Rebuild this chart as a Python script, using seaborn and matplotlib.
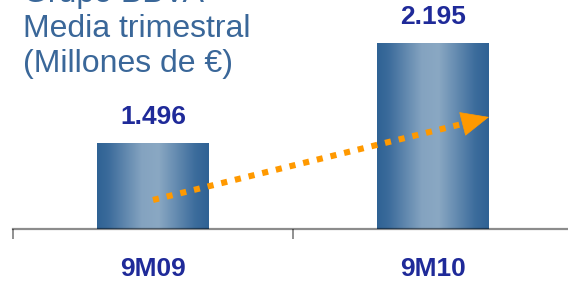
import matplotlib
matplotlib.use("Agg")
import matplotlib.pyplot as plt
import seaborn as sns
import numpy as np
import pandas as pd
from matplotlib.colors import LinearSegmentedColormap

# Data
periods = ["9M09", "9M10"]
values = [1.496, 2.195]
value_labels = ["1.496", "2.195"]
title_lines = ["Grupo BBVA", "Media trimestral", "(Millones de €)"]

df = pd.DataFrame({"period": periods, "value": values})

sns.set_style("white")
plt.rcParams["font.family"] = ["Liberation Sans", "DejaVu Sans"]

fig = plt.figure(figsize=(5.68, 2.81), dpi=100)
ax = fig.add_axes([13 / 568, 52 / 281, 560 / 568, 229 / 281])

sns.barplot(data=df, x="period", y="value", width=0.40, ax=ax, color="#5a82a8")
ylo, yhi = 0.895, 2.496

# gradient fill for the bars
bar_cmap = LinearSegmentedColormap.from_list(
    "bar", [(0, "#2f6294"), (0.1, "#3b6b9b"), (0.4, "#84a3c0"),
            (0.55, "#8aa8c3"), (0.88, "#3c6c9c"), (1, "#2f6294")])
grad = np.linspace(0, 1, 256).reshape(1, -1)
for p in ax.patches:
    x0, y0 = p.get_x(), p.get_y()
    w, h = p.get_width(), p.get_height()
    p.set_facecolor("none")
    p.set_edgecolor("none")
    ax.imshow(grad, cmap=bar_cmap, aspect="auto",
              extent=(x0, x0 + w, ylo, y0 + h), zorder=2)
ax.set_xlim(-0.5, 1.5)
ax.set_ylim(ylo, yhi)

# value labels
for i, (v, lab) in enumerate(zip(values, value_labels)):
    ax.annotate(lab, (i, v), xytext=(0, 10), textcoords="offset points",
                ha="center", va="bottom", fontsize=19, fontweight="bold",
                color="#1f2a99", zorder=5)

# orange dotted trend arrow
ax.plot([0.0, 1.118], [1.098, 1.636], color="#ff9900", lw=4.4,
        linestyle=(0, (1.0, 1.3)), solid_capstyle="butt", zorder=6)
ax.annotate("", xy=(1.2, 1.678), xytext=(1.11, 1.632),
            arrowprops=dict(arrowstyle="-|>,head_length=0.95,head_width=0.42",
                            mutation_scale=20, color="#ff9900", lw=0.5,
                            shrinkA=0, shrinkB=0),
            zorder=6)

# axes styling
for s in ["left", "right", "top"]:
    ax.spines[s].set_visible(False)
ax.spines["bottom"].set_color((0, 0, 0, 0.45))
ax.spines["bottom"].set_linewidth(1.6)
ax.spines["bottom"].set_zorder(4)
ax.set_yticks([])
ax.set_xticks([0, 1])
ax.set_xticklabels(periods, fontsize=19, fontweight="bold", color="#1f2a99")
ax.tick_params(axis="x", which="major", length=0, pad=20)
ax.set_xticks([-0.5, 0.5, 1.5], minor=True)
ax.tick_params(axis="x", which="minor", bottom=True, length=7.5, width=1.3,
               color="#888888", direction="out")
ax.set_xlabel("")
ax.set_ylabel("")

# title block (top line is cut off by the frame, as in the source)
for k, line in enumerate(title_lines):
    fig.text(23 / 568, 1 - (2 + 35 * k) / 281, line, fontsize=23,
             color="#3a6799", ha="left", va="baseline")

fig.savefig("out.png", dpi=100)
